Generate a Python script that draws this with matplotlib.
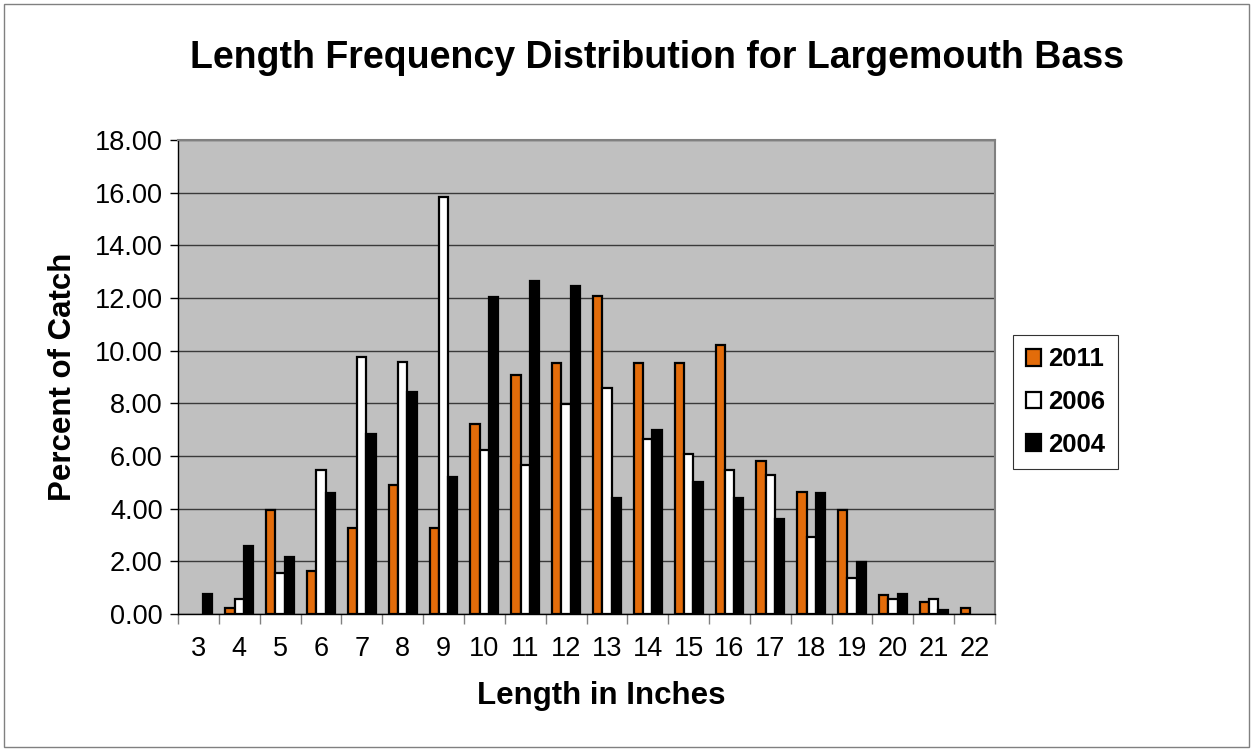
import matplotlib
matplotlib.use("Agg")
import matplotlib.pyplot as plt
import numpy as np
from matplotlib.patches import Rectangle

lengths = [3, 4, 5, 6, 7, 8, 9, 10, 11, 12, 13, 14, 15, 16, 17, 18, 19, 20, 21, 22]
pct_2011 = [0.00, 0.24, 3.94, 1.62, 3.27, 4.88, 3.27, 7.21, 9.06, 9.53,
            12.08, 9.53, 9.53, 10.23, 5.80, 4.65, 3.95, 0.71, 0.47, 0.23]
pct_2006 = [0.00, 0.58, 1.55, 5.48, 9.76, 9.58, 15.82, 6.24, 5.65, 7.98,
            8.58, 6.64, 6.06, 5.48, 5.27, 2.93, 1.37, 0.57, 0.58, 0.00]
pct_2004 = [0.77, 2.60, 2.18, 4.61, 6.82, 8.42, 5.21, 12.04, 12.64, 12.45,
            4.40, 7.00, 5.00, 4.40, 3.60, 4.59, 1.99, 0.77, 0.16, 0.00]
series_names = ["2011", "2006", "2004"]
series_colors = ["#E36C0A", "#FFFFFF", "#000000"]

plt.rcParams["font.family"] = ["Liberation Sans", "DejaVu Sans"]

fig = plt.figure(figsize=(12.53, 7.51), dpi=100)
ax = fig.add_axes([178 / 1253, 1 - 614 / 751, (995 - 178) / 1253, (614 - 140) / 751])

x = np.arange(len(lengths))
w = 0.228
for i, (vals, name, col) in enumerate(zip([pct_2011, pct_2006, pct_2004], series_names, series_colors)):
    v = np.array(vals)
    mask = v > 0
    ax.bar(x[mask] + (i - 1) * w, v[mask], width=w, color=col, edgecolor="black",
           linewidth=1.6, label=name, zorder=3)

ax.set_facecolor("#C0C0C0")
ax.set_xlim(-0.5, len(lengths) - 0.5)
ax.set_ylim(0, 18)
ax.set_yticks(np.arange(0, 18.01, 2))
ax.set_yticklabels([f"{t:.2f}" for t in np.arange(0, 18.01, 2)])
ax.yaxis.grid(True, color="#3A3A3A", linewidth=1.0, zorder=0)
ax.set_axisbelow(True)

ax.set_xticks(x)
ax.set_xticklabels([str(l) for l in lengths])
ax.set_xticks(np.arange(-0.5, len(lengths), 1), minor=True)
ax.tick_params(axis="x", which="major", length=0, labelsize=19.5, pad=16)
ax.tick_params(axis="x", which="minor", length=7, width=1, color="#808080", direction="out")
ax.tick_params(axis="y", which="major", length=6, width=1, labelsize=19.5, pad=5)

for s in ["top", "right"]:
    ax.spines[s].set_color("#808080")
    ax.spines[s].set_linewidth(1.5)
ax.spines["left"].set_color("#000000")
ax.spines["bottom"].set_color("#000000")
ax.spines["left"].set_linewidth(1.0)
ax.spines["bottom"].set_linewidth(1.0)

ax.set_ylabel("Percent of Catch", fontsize=22.5, fontweight="bold", labelpad=12)
fig.text(601 / 1253, 1 - 704 / 751, "Length in Inches", ha="center", va="baseline",
         fontsize=22.5, fontweight="bold")
fig.text(657 / 1253, 1 - 58 / 751, "Length Frequency Distribution for Largemouth Bass",
         ha="center", va="center", fontsize=27, fontweight="bold")

leg = ax.legend(loc="center left", bbox_to_anchor=(1013 / 1253, 1 - 402 / 751),
                bbox_transform=fig.transFigure, frameon=True, fancybox=False,
                prop={"size": 18.5, "weight": "bold"}, handlelength=0.6, handleheight=0.6,
                handletextpad=0.25, labelspacing=0.72, borderpad=0.5, borderaxespad=0)
leg.get_frame().set_edgecolor("#000000")
leg.get_frame().set_linewidth(0.8)

fig.patches.append(Rectangle((4 / 1253, 4 / 751), 1245 / 1253, 743 / 751, transform=fig.transFigure,
                             fill=False, edgecolor="#808080", linewidth=1.0))

fig.savefig("out.png", dpi=100)
